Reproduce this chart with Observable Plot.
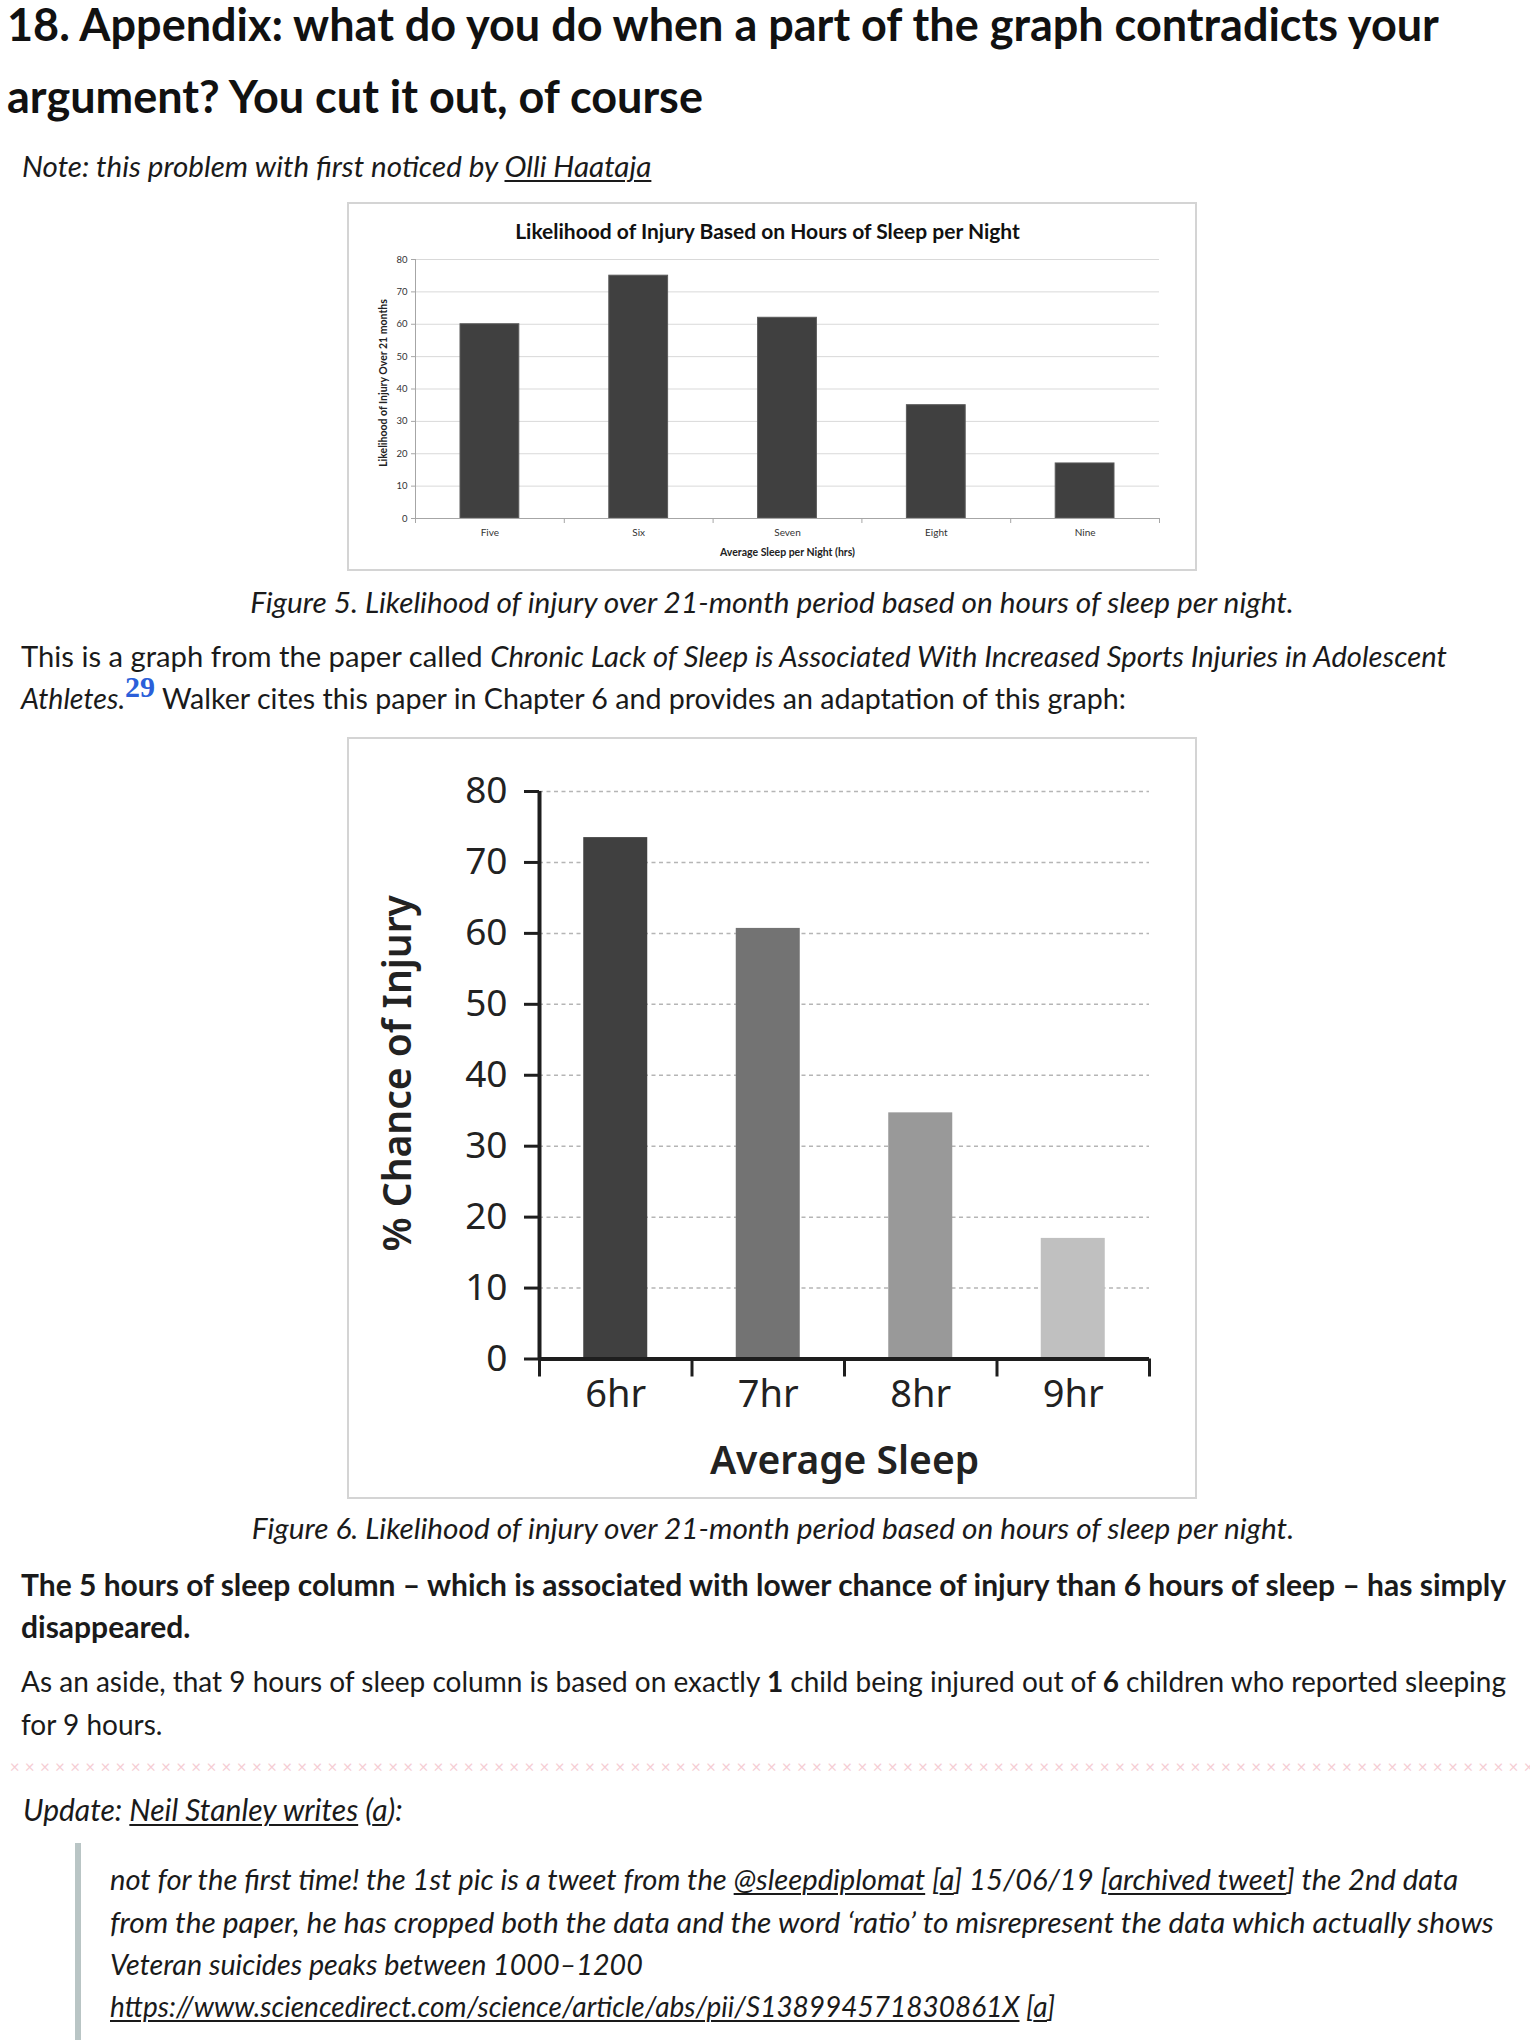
<!DOCTYPE html>
<html>
<head>
<meta charset="utf-8">
<script src="https://cdn.jsdelivr.net/npm/d3@7"></script>
<script src="https://cdn.jsdelivr.net/npm/@observablehq/plot@0.6"></script>
<style>
html, body { margin: 0; padding: 0; background: #fff; }
body { width: 1530px; height: 2040px; position: relative; overflow: hidden;
       font-family: Lato, "Noto Sans", sans-serif; color: #1a1a1a; }
.t { position: absolute; white-space: nowrap; }
.title { font-weight: 700; font-size: 45px; line-height: 72px; color: #111; }
.body { font-size: 29px; line-height: 42px; }
.it { font-style: italic; }
u { text-decoration-thickness: 1.5px; text-underline-offset: 3px; }
.box { position: absolute; border: 2px solid #d4d4d4; box-sizing: border-box; background: #fff; }
.box svg { display: block; }
.sep { position: absolute; left: 7px; top: 1755px; display: flex; color: #f5cdd4; font-size: 17px; line-height: 24px; }
.sep span { display: inline-block; width: 15.15px; text-align: center; }
.bar { position: absolute; left: 75px; top: 1843px; width: 6px; height: 200px; background: #b9c5c5; }
sup.fn { font-family: "Liberation Serif", serif; font-weight: bold; color: #2b5fd9; font-size: 30px;
         vertical-align: baseline; position: relative; top: -12px; font-style: normal; }
</style>
</head>
<body>
<div class="t title" style="left:7px; top:-12px;">18. Appendix: what do you do when a part of the graph contradicts your<br>argument? You cut it out, of course</div>
<div class="t body it" style="left:22px; top:145px; font-size:29.6px;">Note: this problem with first noticed by <u>Olli Haataja</u></div>

<div class="box" id="box1" style="left:347px; top:202px; width:850px; height:369px;"></div>

<div class="t body it" style="left:0; width:1544px; text-align:center; top:581px; font-size:29.8px;">Figure 5. Likelihood of injury over 21-month period based on hours of sleep per night.</div>

<div class="t body" style="left:21px; top:635px;"><span style="font-size:29.2px;">This is a graph from the paper called <i>Chronic Lack of Sleep is Associated With Increased Sports Injuries in Adolescent</i></span><br><span style="font-size:28.6px;"><i>Athletes.</i><sup class="fn">29</sup> Walker cites this paper in Chapter 6 and provides an adaptation of this graph:</span></div>

<div class="box" id="box2" style="left:347px; top:737px; width:850px; height:762px;"></div>

<div class="t body it" style="left:0; width:1546px; text-align:center; top:1507px; font-size:29.8px;">Figure 6. Likelihood of injury over 21-month period based on hours of sleep per night.</div>

<div class="t body" style="left:21px; top:1563px; font-weight:700; font-size:30px;">The 5 hours of sleep column – which is associated with lower chance of injury than 6 hours of sleep – has simply<br>disappeared.</div>

<div class="t body" style="left:21px; top:1660px; line-height:43px; font-size:28px;">As an aside, that 9 hours of sleep column is based on exactly <b>1</b> child being injured out of <b>6</b> children who reported sleeping<br>for 9 hours.</div>

<div class="sep" id="sep"></div>

<div class="t body it" style="left:23px; top:1788px; font-size:30px;">Update: <u>Neil Stanley writes</u> (<u>a</u>):</div>

<div class="bar"></div>
<div class="t body it" style="left:110px; top:1858px; line-height:42px;"><span style="font-size:29.2px;">not for the first time! the 1st pic is a tweet from the <u>@sleepdiplomat</u> [<u>a</u>] 15/06/19 [<u>archived tweet</u>] the 2nd data</span><br><span style="font-size:29.9px;">from the paper, he has cropped both the data and the word ‘ratio’ to misrepresent the data which actually shows</span><br><span style="font-size:28.7px;">Veteran suicides peaks between 1000–1200</span><br><span style="font-size:28px;"><u>https://www.sciencedirect.com/science/article/abs/pii/S138994571830861X</u> [<u>a</u>]</span></div>

<script>
// ---------- Data ----------
const origTitle = "Likelihood of Injury Based on Hours of Sleep per Night";
const origCategories = ["Five", "Six", "Seven", "Eight", "Nine"];
const origValues = [60, 75, 62, 35, 17];
const origTicks = [0, 10, 20, 30, 40, 50, 60, 70, 80];
const origYLabel = "Likelihood of Injury Over 21 months";
const origXLabel = "Average Sleep per Night (hrs)";

const adaptCategories = ["6hr", "7hr", "8hr", "9hr"];
const adaptValues = [73.5, 60.7, 34.7, 17.0];
const adaptTicks = [0, 10, 20, 30, 40, 50, 60, 70, 80];
const adaptYLabel = "% Chance of Injury";
const adaptXLabel = "Average Sleep";

// ---------- Separator ----------
const sep = document.getElementById("sep");
for (let i = 0; i < 101; i++) { const s = document.createElement("span"); s.textContent = "×"; sep.appendChild(s); }

// ---------- Chart 1 (original Excel-style) ----------
const d1 = origCategories.map((c, i) => ({cat: c, i, v: origValues[i]}));
const font1 = "Lato, 'Noto Sans', sans-serif";
const chart1 = Plot.plot({
  width: 846, height: 365,
  marginLeft: 66, marginRight: 36, marginTop: 55, marginBottom: 51,
  style: {fontFamily: font1, background: "transparent", overflow: "visible"},
  x: {domain: [0, origCategories.length], axis: null},
  y: {domain: [0, 80], axis: null},
  marks: [
    Plot.ruleY(origTicks.filter(t => t > 0), {stroke: "#d9d9d9", strokeWidth: 1}),
    Plot.rectY(d1, {x1: d => d.i, x2: d => d.i + 1, y: "v", insetLeft: 45, insetRight: 45,
                    fill: "#404040", stroke: "#5a5a5a", strokeWidth: 1}),
    Plot.ruleY([0], {stroke: "#a6a6a6", strokeWidth: 1}),
    Plot.ruleX([0], {stroke: "#a6a6a6", strokeWidth: 1}),
    Plot.axisY({ticks: origTicks, tickSize: 4, tickPadding: 4, fontSize: 9.5, label: null,
                stroke: "#a6a6a6", fill: "#333", tickFormat: d => d}),
    Plot.axisX({ticks: d3.range(origCategories.length + 1), tickSize: 5, tickFormat: () => "",
                label: null, stroke: "#a6a6a6"}),
    Plot.axisX({ticks: origCategories.map((c, i) => i + 0.5), tickSize: 0, tickPadding: 10, label: null,
                tickFormat: t => origCategories[Math.floor(t)], fontSize: 10, fill: "#333"}),
    Plot.text([origTitle], {text: d => d, frameAnchor: "top", lineAnchor: "middle", dy: -27, dx: -20,
                            fontSize: 21, fontWeight: "bold", fill: "#111"}),
    Plot.text([origYLabel], {text: d => d, frameAnchor: "left", rotate: -90, textAnchor: "middle",
                             lineAnchor: "middle", dx: -32, dy: -6, fontSize: 10.5, fontWeight: "bold", fill: "#222"}),
    Plot.text([origXLabel], {text: d => d, frameAnchor: "bottom", lineAnchor: "bottom", dy: 37,
                             fontSize: 10.5, fontWeight: "bold", fill: "#222"})
  ]
});
document.getElementById("box1").appendChild(chart1);

// ---------- Chart 2 (Walker's adaptation) ----------
const barFills = ["#404040", "#737373", "#999999", "#c0c0c0"];
const d2 = adaptCategories.map((c, i) => ({cat: c, i, v: adaptValues[i]}));
const font2 = "'Noto Sans', 'Open Sans', sans-serif";
const chart2 = Plot.plot({
  width: 846, height: 758,
  marginLeft: 190, marginRight: 46, marginTop: 52, marginBottom: 138.5,
  style: {fontFamily: font2, background: "transparent", overflow: "visible"},
  x: {domain: [0, adaptCategories.length], axis: null},
  y: {domain: [0, 80], axis: null},
  color: {domain: adaptCategories, range: barFills},
  marks: [
    Plot.ruleY(adaptTicks.filter(t => t > 0), {stroke: "#b5b5b5", strokeWidth: 1.5, strokeDasharray: "4,3.5"}),
    Plot.rectY(d2, {x1: d => d.i, x2: d => d.i + 1, y: "v", insetLeft: 44.25, insetRight: 44.25, fill: "cat"}),
    Plot.axisY({ticks: adaptTicks, tickSize: 15, tickPadding: 17, fontSize: 37, strokeWidth: 3, label: null,
                stroke: "#1e1e1e", fill: "#222", tickFormat: d => d}),
    Plot.axisX({ticks: d3.range(adaptCategories.length + 1), tickSize: 18, tickFormat: () => "", label: null,
                strokeWidth: 3, stroke: "#1e1e1e"}),
    Plot.axisX({ticks: adaptCategories.map((c, i) => i + 0.5), tickSize: 0, tickPadding: 21.5, label: null,
                tickFormat: t => adaptCategories[Math.floor(t)], fontSize: 38, fill: "#222"}),
    Plot.ruleX([0], {stroke: "#1e1e1e", strokeWidth: 4}),
    Plot.ruleY([0], {stroke: "#1e1e1e", strokeWidth: 4}),
    Plot.text([adaptYLabel], {text: d => d, frameAnchor: "left", rotate: -90, textAnchor: "middle",
                              lineAnchor: "middle", dx: -141, dy: -2, fontSize: 39, fontWeight: 600, fill: "#222"}),
    Plot.text([adaptXLabel], {text: d => d, frameAnchor: "bottom", lineAnchor: "bottom", dy: 114.5,
                              fontSize: 39, fontWeight: 600, fill: "#222"})
  ]
});
document.getElementById("box2").appendChild(chart2);
</script>
</body>
</html>
